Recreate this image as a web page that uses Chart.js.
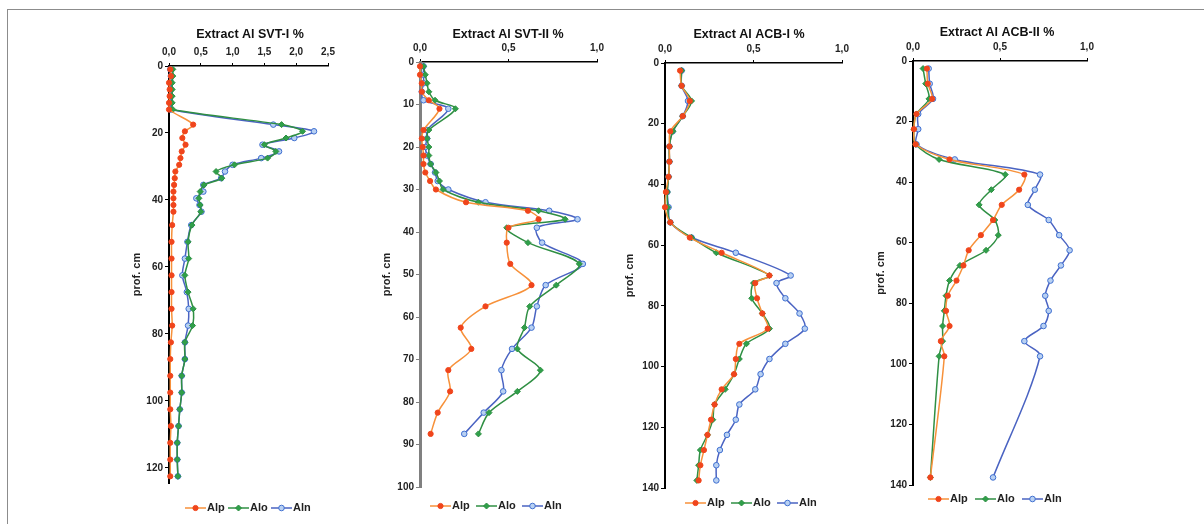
<!DOCTYPE html>
<html>
<head>
<meta charset="utf-8">
<script src="https://cdn.jsdelivr.net/npm/chart.js@4.4.1/dist/chart.umd.min.js"></script>
<style>
  body { margin: 0; background: #fff; width: 1204px; height: 524px; overflow: hidden; position: relative; }
  .frame { position: absolute; left: 7px; top: 9px; width: 1200px; height: 520px; border-top: 1px solid #8c8c8c; border-left: 1px solid #8c8c8c; }
  canvas { position: absolute; }
</style>
</head>
<body>
<div class="frame"></div>
<canvas id="svt1"></canvas>
<canvas id="svt2"></canvas>
<canvas id="acb1"></canvas>
<canvas id="acb2"></canvas>
<script>
// ===== données (profondeur cm / Al %) =====
const seriesLabels = ['Alp', 'Alo', 'Aln'];

// SVT-I
const depthSVT1 = [1, 3, 5, 7, 9, 11, 13, 17.5, 19.5, 21.5, 23.5, 25.5, 27.5, 29.5, 31.5, 33.5, 35.5, 37.5, 39.5, 41.5, 43.5,
  47.5, 52.5, 57.5, 62.5, 67.5, 72.5, 77.5, 82.5, 87.5, 92.5, 97.5, 102.5, 107.5, 112.5, 117.5, 122.5];
const alpSVT1 = [0.02, 0.03, 0, 0.01, 0.01, 0, 0, 0.38, 0.25, 0.21, 0.26, 0.2, 0.18, 0.16, 0.1, 0.09, 0.08, 0.07, 0.07, 0.07, 0.07,
  0.05, 0.04, 0.04, 0.04, 0.04, 0.04, 0.05, 0.03, 0.02, 0.02, 0.02, 0.02, 0.03, 0.02, 0.02, 0.02];
const aloSVT1 = [0.06, 0.06, 0.05, 0.05, 0.05, 0.05, 0.06, 1.77, 2.1, 1.84, 1.5, 1.68, 1.55, 1.03, 0.74, 0.83, 0.55, 0.49, 0.47, 0.49, 0.5,
  0.36, 0.3, 0.31, 0.25, 0.3, 0.38, 0.37, 0.25, 0.25, 0.2, 0.2, 0.17, 0.15, 0.13, 0.13, 0.14];
const alnSVT1 = [0.02, 0.03, 0.03, 0.03, 0.03, 0.03, 0.03, 1.64, 2.28, 1.97, 1.47, 1.73, 1.45, 1.0, 0.88, 0.82, 0.54, 0.54, 0.43, 0.48, 0.51,
  0.35, 0.29, 0.25, 0.21, 0.28, 0.31, 0.3, 0.25, 0.25, 0.2, 0.2, 0.17, 0.15, 0.13, 0.13, 0.14];

// SVT-II
const depthSVT2 = [1, 3, 5, 7, 9, 11, 16, 18, 20, 22, 24, 26, 28, 30, 33, 35, 37, 39,
  42.5, 47.5, 52.5, 57.5, 62.5, 67.5, 72.5, 77.5, 82.5, 87.5];
const alpSVT2 = [0, 0, 0.01, 0.01, 0.05, 0.11, 0.02, 0.01, 0.015, 0.02, 0.02, 0.03, 0.057, 0.09, 0.26, 0.61, 0.67, 0.5,
  0.49, 0.51, 0.63, 0.37, 0.23, 0.29, 0.16, 0.17, 0.1, 0.06];
const aloSVT2 = [0.02, 0.03, 0.04, 0.05, 0.085, 0.2, 0.05, 0.04, 0.05, 0.05, 0.06, 0.09, 0.11, 0.13, 0.33, 0.67, 0.82, 0.49,
  0.61, 0.9, 0.77, 0.62, 0.59, 0.55, 0.68, 0.55, 0.39, 0.33];
const alnSVT2 = [0.02, 0.02, 0.02, 0.01, 0.02, 0.16, 0.04, 0.04, 0.03, 0.04, 0.06, 0.085, 0.1, 0.16, 0.37, 0.73, 0.89, 0.66,
  0.69, 0.92, 0.71, 0.66, 0.63, 0.52, 0.46, 0.47, 0.36, 0.25];

// ACB-I
const depthACB1 = [2.5, 7.5, 12.5, 17.5, 22.5, 27.5, 32.5, 37.5, 42.5, 47.5, 52.5, 57.5, 62.5, 70,
  72.5, 77.5, 82.5, 87.5, 92.5, 97.5, 102.5, 107.5, 112.5, 117.5, 122.5, 127.5, 132.5, 137.5];
const alpACB1 = [0.085, 0.094, 0.14, 0.1, 0.03, 0.025, 0.025, 0.02, 0.005, 0, 0.03, 0.14, 0.32, 0.59,
  0.51, 0.52, 0.55, 0.58, 0.42, 0.4, 0.39, 0.32, 0.28, 0.26, 0.24, 0.22, 0.2, 0.19];
const aloACB1 = [0.094, 0.094, 0.15, 0.1, 0.045, 0.025, 0.025, 0.02, 0.013, 0.015, 0.03, 0.15, 0.29, 0.59,
  0.5, 0.49, 0.55, 0.59, 0.46, 0.42, 0.39, 0.34, 0.28, 0.27, 0.24, 0.2, 0.19, 0.18];
const alnACB1 = [0.094, 0.094, 0.13, 0.1, 0.043, 0.025, 0.025, 0.02, 0.013, 0.02, 0.03, 0.15, 0.4, 0.71,
  0.63, 0.68, 0.76, 0.79, 0.68, 0.59, 0.54, 0.51, 0.42, 0.4, 0.35, 0.31, 0.29, 0.29];

// ACB-II
const depthACB2 = [2.5, 7.5, 12.5, 17.5, 22.5, 27.5, 32.5, 37.5, 42.5, 47.5, 52.5, 57.5, 62.5, 67.5,
  72.5, 77.5, 82.5, 87.5, 92.5, 97.5, 137.5];
const alpACB2 = [0.08, 0.085, 0.11, 0.02, 0.005, 0.015, 0.21, 0.64, 0.61, 0.51, 0.46, 0.39, 0.32, 0.29,
  0.25, 0.2, 0.19, 0.21, 0.16, 0.18, 0.1];
const aloACB2 = [0.058, 0.073, 0.092, 0.02, 0.005, 0.015, 0.15, 0.53, 0.45, 0.38, 0.47, 0.49, 0.42, 0.27,
  0.21, 0.19, 0.18, 0.17, 0.17, 0.15, 0.1];
const alnACB2 = [0.09, 0.096, 0.115, 0.03, 0.03, 0.02, 0.24, 0.73, 0.7, 0.66, 0.78, 0.84, 0.9, 0.85,
  0.79, 0.76, 0.78, 0.75, 0.64, 0.73, 0.46];

// ===== styles =====
const FONT = '"Liberation Sans", Arial, sans-serif';
const CANVAS_TOP = 20;
const CANVAS_H = 500;

const SERIES_STYLE = [
  { line: '#F7913A', fill: '#F0451C', stroke: '#F0451C', shape: 'circle', r: 2.6 },
  { line: '#2F8F43', fill: '#2FA04A', stroke: '#2F8F43', shape: 'diamond', r: 3 },
  { line: '#4A63C2', fill: '#B8D0F2', stroke: '#3F6FD0', shape: 'circle', r: 2.8 }
];

// zone de tracé de chaque panneau (px absolus)
const PANELS = [
  { id: 'svt1', title: 'Extract Al SVT-I %', canvasLeft: 130, canvasW: 218, left: 169, right: 328, top: 66, bottom: 483,
    xMax: 2.5, yMax: 124.5, yStep: 20, axisColor: '#000', axisWidth: 2,
    titleX: 250, titleY: 35, legendX: 185, legendY: 508, legendStep: 43,
    depth: depthSVT1, values: [alpSVT1, aloSVT1, alnSVT1] },
  { id: 'svt2', title: 'Extract Al SVT-II %', canvasLeft: 380, canvasW: 236, left: 420, right: 597, top: 62, bottom: 487,
    xMax: 1, yMax: 100, yStep: 10, axisColor: '#808080', axisWidth: 3,
    titleX: 508, titleY: 35, legendX: 430, legendY: 506, legendStep: 46,
    depth: depthSVT2, values: [alpSVT2, aloSVT2, alnSVT2] },
  { id: 'acb1', title: 'Extract Al ACB-I %', canvasLeft: 623, canvasW: 237, left: 665, right: 842, top: 63, bottom: 488,
    xMax: 1, yMax: 140, yStep: 20, axisColor: '#000', axisWidth: 2,
    titleX: 749, titleY: 35, legendX: 685, legendY: 503, legendStep: 46,
    depth: depthACB1, values: [alpACB1, aloACB1, alnACB1] },
  { id: 'acb2', title: 'Extract Al ACB-II %', canvasLeft: 874, canvasW: 232, left: 913, right: 1087, top: 61, bottom: 485,
    xMax: 1, yMax: 140, yStep: 20, axisColor: '#000', axisWidth: 2,
    titleX: 997, titleY: 33, legendX: 928, legendY: 499, legendStep: 47,
    depth: depthACB2, values: [alpACB2, aloACB2, alnACB2] }
];

function drawMarker(ctx, st, x, y) {
  ctx.fillStyle = st.fill;
  ctx.strokeStyle = st.stroke;
  ctx.lineWidth = 1;
  ctx.beginPath();
  if (st.shape === 'diamond') {
    ctx.moveTo(x, y - st.r); ctx.lineTo(x + st.r, y); ctx.lineTo(x, y + st.r); ctx.lineTo(x - st.r, y);
    ctx.closePath();
  } else {
    ctx.arc(x, y, st.r, 0, Math.PI * 2);
  }
  ctx.fill();
  ctx.stroke();
}

// titre + légende (ligne avec marqueur)
const panelText = {
  id: 'panelText',
  afterDraw(chart, args, opts) {
    const ctx = chart.ctx;
    ctx.save();
    ctx.fillStyle = '#111';
    ctx.font = 'bold 12.5px ' + FONT;
    ctx.textAlign = 'center';
    ctx.textBaseline = 'middle';
    ctx.fillText(opts.title, opts.titleX, opts.titleY);

    let x = opts.legendX;
    const y = opts.legendY;
    seriesLabels.forEach((label, i) => {
      const st = SERIES_STYLE[i];
      ctx.strokeStyle = st.line;
      ctx.lineWidth = 1.5;
      ctx.beginPath();
      ctx.moveTo(x, y);
      ctx.lineTo(x + 21, y);
      ctx.stroke();
      drawMarker(ctx, st, x + 10.5, y);
      ctx.fillStyle = '#222';
      ctx.font = 'bold 11px ' + FONT;
      ctx.textAlign = 'left';
      ctx.fillText(label, x + 22, y);
      x += opts.step;
    });
    ctx.restore();
  }
};

function makeDatasets(p) {
  return seriesLabels.map((label, i) => {
    const st = SERIES_STYLE[i];
    return {
      label,
      data: p.depth.map((d, k) => ({ x: p.values[i][k], y: d })),
      showLine: true,
      borderColor: st.line,
      borderWidth: 1.5,
      tension: 0.3,
      pointStyle: st.shape === 'diamond' ? 'rectRot' : 'circle',
      pointRadius: st.r,
      pointBackgroundColor: st.fill,
      pointBorderColor: st.stroke,
      pointBorderWidth: 1,
      clip: false
    };
  });
}

function renderPanel(p) {
  const canvas = document.getElementById(p.id);
  canvas.width = p.canvasW;
  canvas.height = CANVAS_H;
  canvas.style.left = p.canvasLeft + 'px';
  canvas.style.top = CANVAS_TOP + 'px';

  const tickFont = { family: FONT, size: 10, weight: 'bold' };

  new Chart(canvas, {
    type: 'scatter',
    data: { datasets: makeDatasets(p) },
    plugins: [panelText],
    options: {
      responsive: false,
      animation: false,
      devicePixelRatio: 1,
      layout: {
        padding: {
          left: 0, top: 0,
          right: p.canvasLeft + p.canvasW - p.right,
          bottom: CANVAS_TOP + CANVAS_H - p.bottom
        }
      },
      plugins: {
        legend: { display: false },
        tooltip: { enabled: false },
        panelText: {
          title: p.title,
          titleX: p.titleX - p.canvasLeft,
          titleY: p.titleY - CANVAS_TOP,
          legendX: p.legendX - p.canvasLeft,
          legendY: p.legendY - CANVAS_TOP,
          step: p.legendStep
        }
      },
      scales: {
        x: {
          type: 'linear',
          position: 'top',
          min: 0,
          max: p.xMax,
          ticks: {
            stepSize: 0.5,
            padding: 5,
            color: '#222',
            font: tickFont,
            callback: v => v.toFixed(1).replace('.', ',')
          },
          grid: { display: true, drawOnChartArea: false, drawTicks: true, tickLength: 3, color: '#000' },
          border: { display: true, color: '#000', width: 1.5 },
          afterFit: s => { s.height = p.top - CANVAS_TOP; }
        },
        y: {
          type: 'linear',
          reverse: true,
          min: 0,
          max: p.yMax,
          ticks: { stepSize: p.yStep, padding: 2, color: '#222', font: tickFont },
          afterBuildTicks: s => { s.ticks = s.ticks.filter(t => t.value % p.yStep === 0); },
          grid: { display: true, drawOnChartArea: false, drawTicks: true, tickLength: 4, color: p.axisColor },
          border: { display: true, color: p.axisColor, width: p.axisWidth },
          title: {
            display: true,
            text: 'prof. cm',
            color: '#222',
            font: { family: FONT, size: 11, weight: 'bold' },
            padding: { top: 0, bottom: 0 }
          },
          afterFit: s => { s.width = p.left - p.canvasLeft; }
        }
      }
    }
  });
}

PANELS.forEach(renderPanel);
</script>
</body>
</html>
